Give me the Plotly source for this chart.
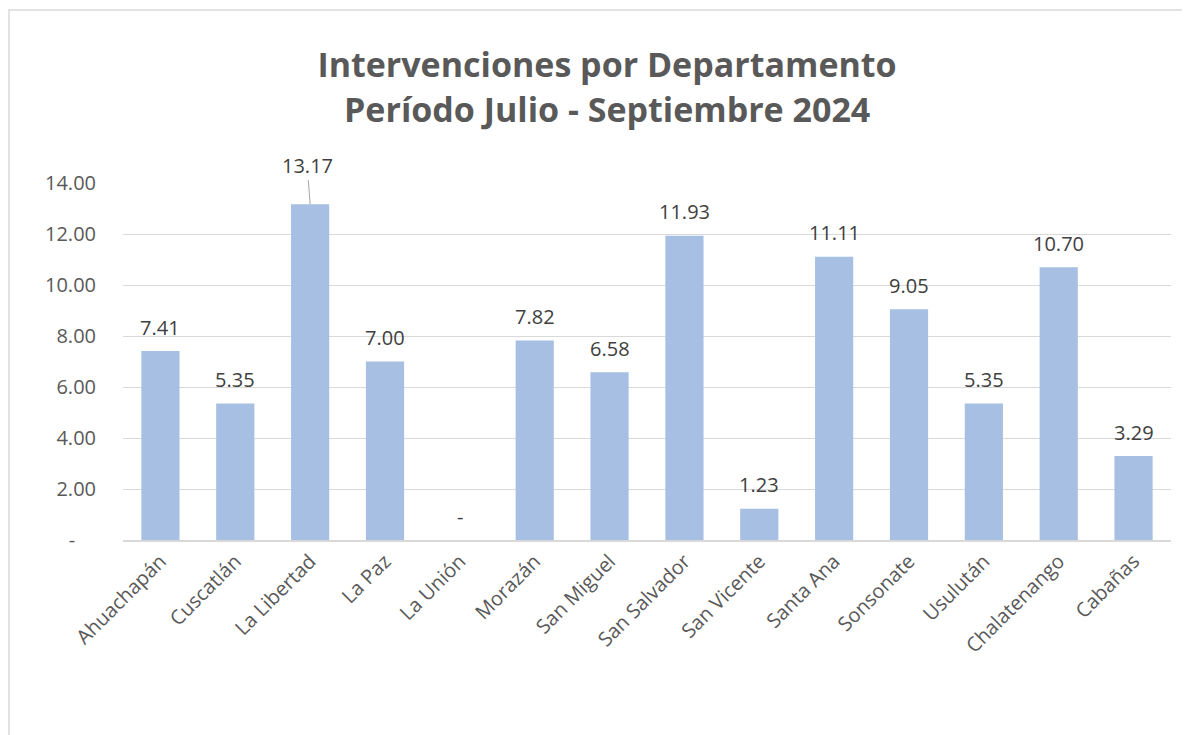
import plotly.graph_objs as go

# Data
departamentos = ['Ahuachapán', 'Cuscatlán', 'La Libertad', 'La Paz', 'La Unión', 'Morazán',
                 'San Miguel', 'San Salvador', 'San Vicente', 'Santa Ana', 'Sonsonate',
                 'Usulután', 'Chalatenango', 'Cabañas']
valores = [7.41, 5.35, 13.17, 7.00, 0.00, 7.82, 6.58, 11.93, 1.23, 11.11, 9.05, 5.35, 10.70, 3.29]
y_ticks = [0, 2, 4, 6, 8, 10, 12, 14]
y_tick_text = ['-\u00a0\u00a0\u00a0\u00a0', '2.00', '4.00', '6.00', '8.00', '10.00', '12.00', '14.00']
titulo = ['Intervenciones por Departamento', 'Período Julio - Septiembre 2024']

gris = '#595959'
fuente = 'Open Sans'

# Preparing data
data = [go.Bar(x=departamentos, y=valores, marker=dict(color='#a6bfe3', line=dict(width=0)),
               width=0.51, hoverinfo='x+y')]

# Data labels as annotations (Excel style, a bit above each bar)
etiquetas = []
for dep, v in zip(departamentos, valores):
    texto = f'{v:.2f}' if v else '-'
    if dep == 'La Libertad':
        etiquetas.append(dict(x=dep, y=v, text=texto, showarrow=True, arrowhead=0, arrowwidth=1,
                              arrowcolor='#a6a6a6', ax=-3, ay=-39, standoff=0,
                              font=dict(family=fuente, size=20, color='#404040')))
    else:
        etiquetas.append(dict(x=dep, y=v, text=texto, showarrow=False, yshift=24, yanchor='middle',
                              font=dict(family=fuente, size=20, color='#404040')))

# Second title line, placed on its own
etiquetas.append(dict(xref='paper', yref='paper', x=(599 - 115) / 1048, y=(532 - 100.5) / 357,
                      xanchor='center', yanchor='middle', showarrow=False,
                      text=f'<b>{titulo[1]}</b>', font=dict(family=fuente, size=34, color=gris)))

# Preparing layout (page body adds an 8px offset)
layout = go.Layout(
    width=1190, height=735,
    paper_bgcolor='white', plot_bgcolor='white',
    margin=dict(l=115, r=27, t=175, b=203),
    title=dict(text=f'<b>{titulo[0]}</b>',
               x=599 / 1190, xanchor='center', y=1 - 57.5 / 735, yanchor='middle',
               font=dict(family=fuente, size=34, color=gris)),
    font=dict(family=fuente, size=20, color=gris),
    showlegend=False,
    bargap=0.49,
    xaxis=dict(tickangle=-45, showgrid=False, showline=True, linecolor='#d9d9d9', linewidth=1.5,
               tickfont=dict(family=fuente, size=20, color=gris), ticks=''),
    yaxis=dict(range=[0, 14], tickvals=y_ticks, ticktext=y_tick_text, showgrid=True,
               gridcolor='#d9d9d9', gridwidth=1, zeroline=False, showline=False,
               ticklabelstandoff=26, tickfont=dict(family=fuente, size=20, color=gris)),
    annotations=etiquetas,
    shapes=[dict(type='rect', xref='paper', yref='paper', x0=(1 - 115) / 1048, x1=1.2,
                 y0=-0.8, y1=(532 - 2) / 357, line=dict(color='#d9d9d9', width=1.5),
                 fillcolor='rgba(0,0,0,0)', layer='below')],
)

fig = go.Figure(data=data, layout=layout)
fig.write_html('out.html')
